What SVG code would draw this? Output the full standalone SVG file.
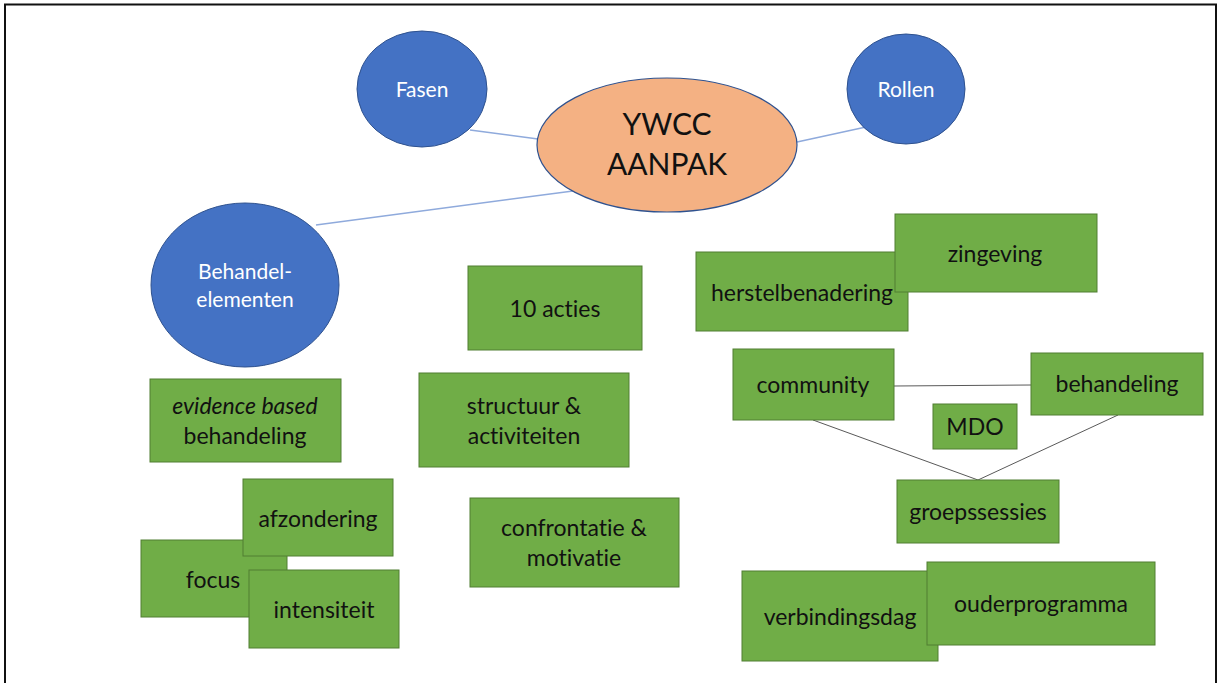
<svg xmlns="http://www.w3.org/2000/svg" width="1218" height="683" viewBox="0 0 1218 683">
<style>
.frame{fill:#fff;stroke:#111;stroke-width:2}
.blue{fill:#4472C4;stroke:#2F528F;stroke-width:1}
.orange{fill:#F4B183;stroke:#2F528F;stroke-width:1.2}
.box{fill:#70AD47;stroke:#507E32;stroke-width:1}
.t{font-family:Lato,"Open Sans","Liberation Sans",sans-serif;font-size:23px;fill:#111;text-anchor:middle;font-variant-ligatures:none;font-feature-settings:"liga" 0,"clig" 0}
.w{fill:#fff;font-size:21px}
.big{font-size:30px}
.it{font-style:italic}
.lb{stroke:#8FAADC;stroke-width:1.5;fill:none}
.lg{stroke:#595959;stroke-width:1;fill:none}
</style>
<rect class="frame" x="5" y="4.5" width="1211" height="700"/>
<g id="connectors">
<line class="lb" x1="470" y1="130" x2="538" y2="139"/>
<line class="lb" x1="797" y1="142" x2="866" y2="127"/>
<line class="lb" x1="316" y1="225" x2="573" y2="191"/>
<line class="lg" x1="894" y1="386" x2="1031" y2="385"/>
<line class="lg" x1="813" y1="420" x2="978" y2="480"/>
<line class="lg" x1="1118" y1="415" x2="978" y2="480"/>
</g>
<g id="fasen"><ellipse class="blue" cx="422" cy="89" rx="65" ry="58"/><text class="t w" x="422" y="97">Fasen</text></g>
<g id="rollen"><ellipse class="blue" cx="906" cy="89" rx="59" ry="55"/><text class="t w" x="906" y="97">Rollen</text></g>
<g id="ywcc"><ellipse class="orange" cx="667" cy="145" rx="130" ry="67"/><text class="t big" x="667" y="135">YWCC</text><text class="t big" x="667" y="175">AANPAK</text></g>
<g id="behandelelementen"><ellipse class="blue" cx="245" cy="285" rx="94" ry="82"/><text class="t w" x="245" y="279">Behandel-</text><text class="t w" x="245" y="307">elementen</text></g>
<g id="acties"><rect class="box" x="468" y="266" width="174" height="84"/><text class="t" x="555" y="317">10 acties</text></g>
<g id="herstelbenadering"><rect class="box" x="696" y="252" width="212" height="79"/><text class="t" x="802" y="301">herstelbenadering</text></g>
<g id="zingeving"><rect class="box" x="895" y="214" width="202" height="78"/><text class="t" x="995" y="262">zingeving</text></g>
<g id="community"><rect class="box" x="733" y="349" width="161" height="71"/><text class="t" x="813" y="393">community</text></g>
<g id="behandeling"><rect class="box" x="1031" y="353" width="172" height="62"/><text class="t" x="1117" y="392">behandeling</text></g>
<g id="mdo"><rect class="box" x="933" y="404" width="84" height="45"/><text class="t" x="975" y="435">MDO</text></g>
<g id="groepssessies"><rect class="box" x="897" y="480" width="162" height="63"/><text class="t" x="978" y="520">groepssessies</text></g>
<g id="verbindingsdag"><rect class="box" x="742" y="571" width="196" height="90"/><text class="t" x="840" y="625">verbindingsdag</text></g>
<g id="ouderprogramma"><rect class="box" x="927" y="562" width="228" height="83"/><text class="t" x="1041" y="612">ouderprogramma</text></g>
<g id="evidence"><rect class="box" x="150" y="379" width="191" height="83"/><text class="t it" x="245" y="414">evidence based</text><text class="t" x="245" y="444">behandeling</text></g>
<g id="structuur"><rect class="box" x="419" y="373" width="210" height="94"/><text class="t" x="524" y="414">structuur &amp;</text><text class="t" x="524" y="444">activiteiten</text></g>
<g id="focus"><rect class="box" x="141" y="540" width="146" height="77"/><text class="t" x="213" y="588">focus</text></g>
<g id="afzondering"><rect class="box" x="243" y="479" width="150" height="77"/><text class="t" x="318" y="527">afzondering</text></g>
<g id="intensiteit"><rect class="box" x="249" y="570" width="150" height="78"/><text class="t" x="324" y="618">intensiteit</text></g>
<g id="confrontatie"><rect class="box" x="470" y="498" width="209" height="89"/><text class="t" x="574" y="536">confrontatie &amp;</text><text class="t" x="574" y="566">motivatie</text></g>
</svg>
